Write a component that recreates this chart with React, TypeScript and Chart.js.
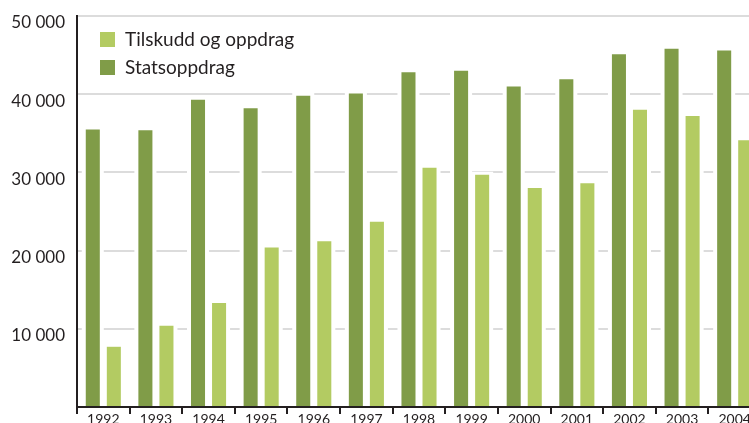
import React, { useEffect, useRef } from "react";
import { Chart, registerables } from "chart.js";

Chart.register(...registerables);

const categories = ["1992", "1993", "1994", "1995", "1996", "1997", "1998", "1999", "2000", "2001", "2002", "2003", "2004"];
const statsoppdrag = [35500, 35400, 39300, 38200, 39800, 40100, 42800, 43000, 41000, 41900, 45100, 45800, 45600];
const tilskuddOgOppdrag = [7700, 10400, 13300, 20400, 21200, 23700, 30600, 29700, 28000, 28600, 38000, 37200, 34100];
const yTickValues = [10000, 20000, 30000, 40000, 50000];

const DARK = "#809c48";
const LIGHT = "#b3cb62";
const TEXT = "#231f20";
const FONT = "Lato, 'Open Sans', sans-serif";

const barHalo = {
  id: "barHalo",
  beforeDatasetsDraw(chart: any) {
    const ctx = chart.ctx;
    const area = chart.chartArea;
    ctx.save();
    ctx.beginPath();
    ctx.rect(area.left + 1, area.top, area.right - area.left, area.bottom - area.top);
    ctx.clip();
    ctx.fillStyle = "#ffffff";
    chart.data.datasets.forEach((_d: any, i: number) => {
      const meta = chart.getDatasetMeta(i);
      meta.data.forEach((bar: any) => {
        const p = bar.getProps(["x", "y", "base", "width"], true);
        const top = p.y - 3;
        ctx.fillRect(p.x - p.width / 2 - 4, top, p.width + 8, p.base - 2 - top);
      });
    });
    ctx.restore();
  },
};

const customLegend = {
  id: "customLegend",
  afterDraw(chart: any) {
    const ctx = chart.ctx;
    const items = [
      { label: "Tilskudd og oppdrag", color: LIGHT },
      { label: "Statsoppdrag", color: DARK },
    ];
    const x0 = chart.chartArea.left + 23;
    const y0 = chart.chartArea.top + 16;
    ctx.save();
    ctx.font = `19px ${FONT}`;
    ctx.textBaseline = "middle";
    ctx.textAlign = "left";
    items.forEach((it, i) => {
      const y = y0 + i * 28;
      ctx.fillStyle = it.color;
      ctx.fillRect(x0, y, 15, 15);
      ctx.fillStyle = TEXT;
      ctx.fillText(it.label, x0 + 25, y + 8);
    });
    ctx.restore();
  },
};

export default function App() {
  const ref = useRef<HTMLCanvasElement | null>(null);

  useEffect(() => {
    if (!ref.current) return;
    const chart = new Chart(ref.current, {
      type: "bar",
      data: {
        labels: categories,
        datasets: [
          {
            label: "Statsoppdrag",
            data: statsoppdrag,
            backgroundColor: DARK,
            categoryPercentage: 0.8,
            barPercentage: 0.667,
          },
          {
            label: "Tilskudd og oppdrag",
            data: tilskuddOgOppdrag,
            backgroundColor: LIGHT,
            categoryPercentage: 0.8,
            barPercentage: 0.667,
          },
        ],
      },
      options: {
        responsive: false,
        animation: false,
        devicePixelRatio: 1,
        layout: { padding: { top: 16, right: 19, bottom: 0, left: 0 } },
        plugins: {
          legend: { display: false },
          tooltip: { enabled: false },
        },
        scales: {
          x: {
            type: "category",
            afterFit(scale: any) {
              scale.height = 16;
            },
            grid: {
              offset: true,
              drawOnChartArea: false,
              drawTicks: true,
              tickLength: 7,
              color: TEXT,
              lineWidth: 2,
            },
            border: { display: true, color: TEXT, width: 2 },
            ticks: {
              color: TEXT,
              padding: -3,
              maxRotation: 0,
              autoSkip: false,
              font: { family: FONT, size: 14 },
            },
          },
          y: {
            min: 0,
            max: 50000,
            afterFit(scale: any) {
              scale.width = 77;
            },
            afterBuildTicks(scale: any) {
              scale.ticks = [0, ...yTickValues].map((v) => ({ value: v }));
            },
            grid: {
              drawTicks: false,
              lineWidth: 2,
              color: (c: any) => (c.tick && c.tick.value === 0 ? "rgba(0,0,0,0)" : "#dcdcdc"),
            },
            border: { display: true, color: TEXT, width: 2 },
            ticks: {
              color: TEXT,
              padding: 12,
              labelOffset: 7,
              font: { family: FONT, size: 17, lineHeight: 0.2 },
              callback: (v: any) => (Number(v) === 0 ? "" : `${Number(v) / 1000} 000`),
            },
          },
        },
      },
      plugins: [barHalo, customLegend],
    });
    return () => chart.destroy();
  }, []);

  return (
    <div style={{ position: "fixed", left: 0, top: 0, width: 749, height: 423, overflow: "hidden", background: "#fff" }}>
      <canvas ref={ref} width={780} height={423} style={{ width: 780, height: 423, display: "block" }} />
    </div>
  );
}
